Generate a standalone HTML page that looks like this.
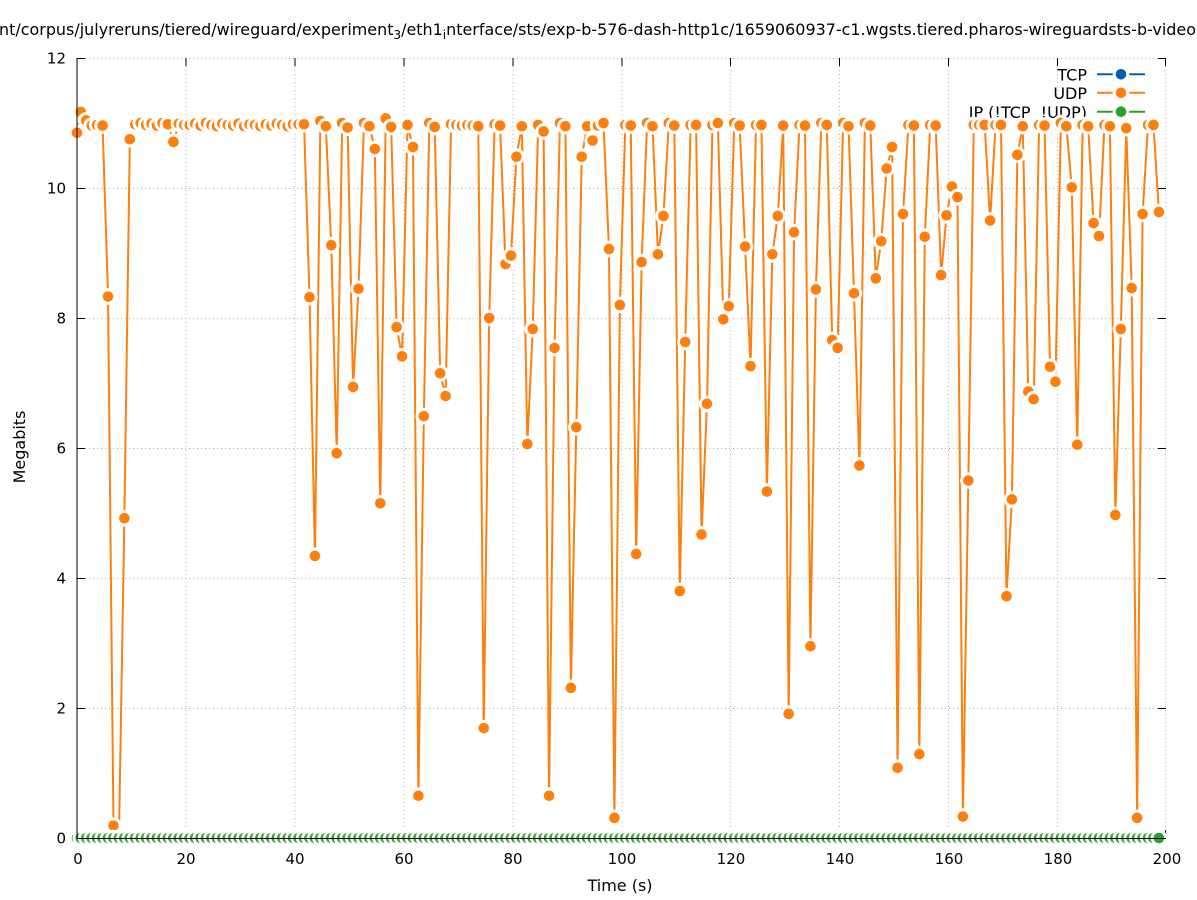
<!DOCTYPE html>
<html>
<head>
<meta charset="utf-8">
<style>
html,body{margin:0;padding:0;background:#fff;}
svg{display:block;}
</style>
</head>
<body>
<svg width="1197" height="900" viewBox="0 0 1197 900" xmlns="http://www.w3.org/2000/svg" font-family="'DejaVu Sans','Liberation Sans',sans-serif">
<defs>
  <marker id="mO" markerUnits="userSpaceOnUse" markerWidth="4" markerHeight="0.4" refX="2" refY="0.2" style="overflow:visible" overflow="visible">
    <ellipse cx="2" cy="0.2" rx="1.5243" ry="0.12769" fill="#ffffff"/>
    <ellipse cx="2" cy="0.2" rx="0.9734" ry="0.08154" fill="#ff7f0e"/>
  </marker>
  <marker id="mG" markerUnits="userSpaceOnUse" markerWidth="4" markerHeight="0.4" refX="2" refY="0.2" style="overflow:visible" overflow="visible">
    <ellipse cx="2" cy="0.2" rx="1.5243" ry="0.12769" fill="#ffffff"/>
    <ellipse cx="2" cy="0.2" rx="0.9734" ry="0.08154" fill="#2ca02c"/>
  </marker>
</defs>

<!-- title -->
<text x="-1" y="35" font-size="16" fill="#000" textLength="1197" lengthAdjust="spacingAndGlyphs">nt/corpus/julyreruns/tiered/wireguard/experiment<tspan font-size="12" dy="4">3</tspan><tspan dy="-4">/eth1</tspan><tspan font-size="12" dy="4">i</tspan><tspan dy="-4">nterface/sts/exp-b-576-dash-http1c/1659060937-c1.wgsts.tiered.pharos-wireguardsts-b-video</tspan></text>

<!-- grid -->
<g stroke="#b0b0b0" stroke-width="1" stroke-dasharray="1 3" fill="none">
  <line x1="77" y1="58.5" x2="1166" y2="58.5"/>
  <line x1="77" y1="188.5" x2="1166" y2="188.5"/>
  <line x1="77" y1="318.5" x2="1166" y2="318.5"/>
  <line x1="77" y1="448.5" x2="1166" y2="448.5"/>
  <line x1="77" y1="578.5" x2="1166" y2="578.5"/>
  <line x1="77" y1="708.5" x2="1166" y2="708.5"/>
  <line x1="186" y1="58" x2="186" y2="838"/>
  <line x1="295" y1="58" x2="295" y2="838"/>
  <line x1="404" y1="58" x2="404" y2="838"/>
  <line x1="513" y1="58" x2="513" y2="838"/>
  <line x1="622" y1="58" x2="622" y2="838"/>
  <line x1="730.5" y1="58" x2="730.5" y2="838"/>
  <line x1="839.5" y1="58" x2="839.5" y2="838"/>
  <line x1="948.5" y1="58" x2="948.5" y2="838"/>
  <line x1="1057.5" y1="58" x2="1057.5" y2="838"/>
  <line x1="1165.5" y1="58" x2="1165.5" y2="838"/>
</g>

<!-- ticks (mirrored) -->
<g stroke="#000" stroke-width="1" shape-rendering="crispEdges">
  <line x1="77" y1="58.5" x2="85" y2="58.5"/><line x1="1158" y1="58.5" x2="1166" y2="58.5"/>
  <line x1="77" y1="188.5" x2="85" y2="188.5"/><line x1="1158" y1="188.5" x2="1166" y2="188.5"/>
  <line x1="77" y1="318.5" x2="85" y2="318.5"/><line x1="1158" y1="318.5" x2="1166" y2="318.5"/>
  <line x1="77" y1="448.5" x2="85" y2="448.5"/><line x1="1158" y1="448.5" x2="1166" y2="448.5"/>
  <line x1="77" y1="578.5" x2="85" y2="578.5"/><line x1="1158" y1="578.5" x2="1166" y2="578.5"/>
  <line x1="77" y1="708.5" x2="85" y2="708.5"/><line x1="1158" y1="708.5" x2="1166" y2="708.5"/>
  <line x1="1158" y1="838.5" x2="1166" y2="838.5"/>
  <line x1="186" y1="58" x2="186" y2="66"/><line x1="186" y1="830" x2="186" y2="838"/>
  <line x1="295" y1="58" x2="295" y2="66"/><line x1="295" y1="830" x2="295" y2="838"/>
  <line x1="404" y1="58" x2="404" y2="66"/><line x1="404" y1="830" x2="404" y2="838"/>
  <line x1="513" y1="58" x2="513" y2="66"/><line x1="513" y1="830" x2="513" y2="838"/>
  <line x1="622" y1="58" x2="622" y2="66"/><line x1="622" y1="830" x2="622" y2="838"/>
  <line x1="730.5" y1="58" x2="730.5" y2="66"/><line x1="730.5" y1="830" x2="730.5" y2="838"/>
  <line x1="839.5" y1="58" x2="839.5" y2="66"/><line x1="839.5" y1="830" x2="839.5" y2="838"/>
  <line x1="948.5" y1="58" x2="948.5" y2="66"/><line x1="948.5" y1="830" x2="948.5" y2="838"/>
  <line x1="1057.5" y1="58" x2="1057.5" y2="66"/><line x1="1057.5" y1="830" x2="1057.5" y2="838"/>
  <line x1="1165.5" y1="58" x2="1165.5" y2="66"/><line x1="1165.5" y1="830" x2="1165.5" y2="838"/>
</g>

<!-- tick labels -->
<g font-size="15" fill="#000" text-anchor="end">
  <text x="66" y="63.5">12</text>
  <text x="66" y="193.5">10</text>
  <text x="66" y="323.5">8</text>
  <text x="66" y="453.5">6</text>
  <text x="66" y="583.5">4</text>
  <text x="66" y="713.5">2</text>
  <text x="66" y="843.5">0</text>
</g>
<g font-size="15" fill="#000" text-anchor="middle">
  <text x="78" y="864">0</text>
  <text x="186" y="864">20</text>
  <text x="295" y="864">40</text>
  <text x="404" y="864">60</text>
  <text x="513" y="864">80</text>
  <text x="622" y="864">100</text>
  <text x="731" y="864">120</text>
  <text x="840" y="864">140</text>
  <text x="949" y="864">160</text>
  <text x="1058" y="864">180</text>
  <text x="1167" y="864">200</text>
</g>

<!-- axis labels -->
<text x="620" y="891" font-size="16" text-anchor="middle" fill="#000">Time (s)</text>
<text transform="translate(25,447) rotate(-90)" font-size="16" text-anchor="middle" fill="#000">Megabits</text>

<!-- legend -->
<g font-size="16" fill="#000" text-anchor="end">
  <text x="1087" y="80.5">TCP</text>
  <text x="1087" y="99">UDP</text>
  <text x="1087" y="118">IP (!TCP&#160;&#160;!UDP)</text>
</g>
<g stroke-width="2">
  <line x1="1097" y1="74.3" x2="1145" y2="74.3" stroke="#0060ad"/>
  <circle cx="1121" cy="74.3" r="8.3" fill="#fff"/>
  <circle cx="1121" cy="74.3" r="5.3" fill="#0060ad"/>
  <line x1="1097" y1="92.8" x2="1145" y2="92.8" stroke="#ff7f0e"/>
  <circle cx="1121" cy="92.8" r="8.3" fill="#fff"/>
  <circle cx="1121" cy="92.8" r="5.3" fill="#ff7f0e"/>
  <line x1="1097" y1="111.7" x2="1145" y2="111.7" stroke="#2ca02c"/>
  <circle cx="1121" cy="111.7" r="8.3" fill="#fff"/>
  <circle cx="1121" cy="111.7" r="5.3" fill="#2ca02c"/>
</g>

<!-- data series -->
<g transform="translate(80.81,838) scale(5.445,-65)">
  <polyline fill="none" stroke="#ff7f0e" stroke-width="2" vector-effect="non-scaling-stroke" stroke-linejoin="round"
    marker-start="url(#mO)" marker-mid="url(#mO)" marker-end="url(#mO)"
    points="-0.7,10.85 0,11.17 1,11.04 2,10.96 3,10.97 4,10.96 5,8.33 6,0.19 7,0 8,4.92 9,10.75 10,10.98 11,11 12,10.97 13,10.99 14,10.96 15,11 16,10.98 17,10.71 18,10.99 19,10.97 20,10.97 21,10.99 22,10.96 23,11 24,10.97 25,10.95 26,10.99 27,10.97 28,10.96 29,10.99 30,10.95 31,10.98 32,10.97 33,10.95 34,10.98 35,10.96 36,10.99 37,10.97 38,10.95 39,10.98 40,10.98 41,10.98 42,8.32 43,4.34 44,11.03 45,10.95 46,9.12 47,5.92 48,11 49,10.93 50,6.94 51,8.45 52,11 53,10.95 54,10.6 55,5.15 56,11.07 57,10.94 58,7.86 59,7.41 60,10.97 61,10.63 62,0.65 63,6.49 64,11 65,10.94 66,7.15 67,6.8 68,10.98 69,10.97 70,10.96 71,10.97 72,10.96 73,10.95 74,1.69 75,8 76,10.98 77,10.96 78,8.83 79,8.96 80,10.48 81,10.95 82,6.06 83,7.83 84,10.97 85,10.87 86,0.65 87,7.54 88,11 89,10.95 90,2.31 91,6.32 92,10.48 93,10.95 94,10.73 95,10.96 96,11 97,9.06 98,0.31 99,8.2 100,10.97 101,10.96 102,4.37 103,8.86 104,11 105,10.95 106,8.98 107,9.57 108,11 109,10.96 110,3.8 111,7.63 112,10.97 113,10.97 114,4.67 115,6.68 116,10.97 117,11 118,7.98 119,8.18 120,11 121,10.96 122,9.1 123,7.26 124,10.97 125,10.97 126,5.33 127,8.98 128,9.57 129,10.96 130,1.91 131,9.32 132,10.97 133,10.96 134,2.95 135,8.44 136,11 137,10.97 138,7.66 139,7.54 140,11 141,10.95 142,8.38 143,5.73 144,11 145,10.96 146,8.61 147,9.18 148,10.3 149,10.63 150,1.08 151,9.6 152,10.97 153,10.96 154,1.29 155,9.25 156,10.97 157,10.96 158,8.66 159,9.58 160,10.02 161,9.86 162,0.33 163,5.5 164,10.97 165,10.97 166,10.97 167,9.5 168,10.97 169,10.97 170,3.72 171,5.21 172,10.51 173,10.95 174,6.87 175,6.75 176,10.97 177,10.96 178,7.25 179,7.02 180,11 181,10.95 182,10.01 183,6.05 184,10.97 185,10.95 186,9.46 187,9.26 188,10.97 189,10.95 190,4.97 191,7.83 192,10.92 193,8.46 194,0.31 195,9.6 196,10.97 197,10.97 198,9.63"/>
  <polyline fill="none" stroke="#2ca02c" stroke-width="2" vector-effect="non-scaling-stroke"
    marker-start="url(#mG)" marker-mid="url(#mG)" marker-end="url(#mG)"
    points="-0.7,0 0,0 1,0 2,0 3,0 4,0 5,0 6,0 7,0 8,0 9,0 10,0 11,0 12,0 13,0 14,0 15,0 16,0 17,0 18,0 19,0 20,0 21,0 22,0 23,0 24,0 25,0 26,0 27,0 28,0 29,0 30,0 31,0 32,0 33,0 34,0 35,0 36,0 37,0 38,0 39,0 40,0 41,0 42,0 43,0 44,0 45,0 46,0 47,0 48,0 49,0 50,0 51,0 52,0 53,0 54,0 55,0 56,0 57,0 58,0 59,0 60,0 61,0 62,0 63,0 64,0 65,0 66,0 67,0 68,0 69,0 70,0 71,0 72,0 73,0 74,0 75,0 76,0 77,0 78,0 79,0 80,0 81,0 82,0 83,0 84,0 85,0 86,0 87,0 88,0 89,0 90,0 91,0 92,0 93,0 94,0 95,0 96,0 97,0 98,0 99,0 100,0 101,0 102,0 103,0 104,0 105,0 106,0 107,0 108,0 109,0 110,0 111,0 112,0 113,0 114,0 115,0 116,0 117,0 118,0 119,0 120,0 121,0 122,0 123,0 124,0 125,0 126,0 127,0 128,0 129,0 130,0 131,0 132,0 133,0 134,0 135,0 136,0 137,0 138,0 139,0 140,0 141,0 142,0 143,0 144,0 145,0 146,0 147,0 148,0 149,0 150,0 151,0 152,0 153,0 154,0 155,0 156,0 157,0 158,0 159,0 160,0 161,0 162,0 163,0 164,0 165,0 166,0 167,0 168,0 169,0 170,0 171,0 172,0 173,0 174,0 175,0 176,0 177,0 178,0 179,0 180,0 181,0 182,0 183,0 184,0 185,0 186,0 187,0 188,0 189,0 190,0 191,0 192,0 193,0 194,0 195,0 196,0 197,0 198,0"/>
</g>

<!-- border (left + bottom) -->
<g stroke="#000" stroke-width="1" shape-rendering="crispEdges">
  <line x1="77" y1="58" x2="77" y2="838.5"/>
  <line x1="77" y1="838.5" x2="1166" y2="838.5"/>
</g>
</svg>
</body>
</html>
